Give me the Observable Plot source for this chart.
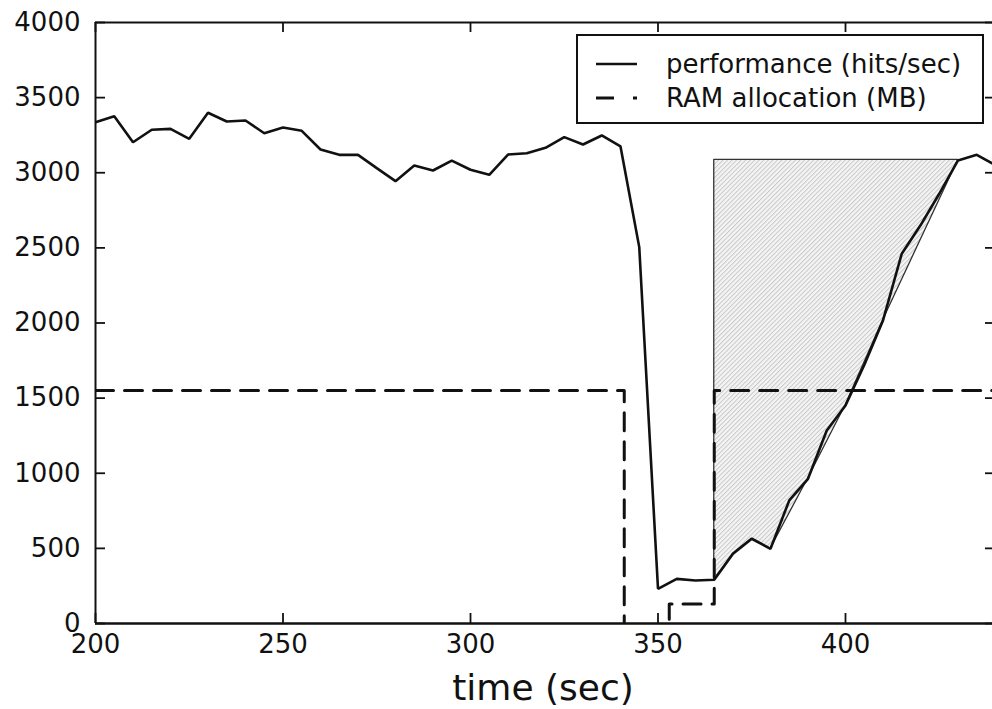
<!DOCTYPE html>
<html>
<head>
<meta charset="utf-8">
<script src="https://cdn.jsdelivr.net/npm/d3@7"></script>
<script src="https://cdn.jsdelivr.net/npm/@observablehq/plot@0.6"></script>
<style>
  html, body { margin: 0; padding: 0; background: #fff; overflow: hidden; }
  #chart { position: relative; width: 992px; height: 709px; overflow: hidden; }
  #chart svg { max-width: none !important; }
</style>
</head>
<body>
<div id="chart"></div>
<script>
// ---- data ----
const times = [200,205,210,215,220,225,230,235,240,245,250,255,260,265,270,275,280,285,290,295,300,305,310,315,320,325,330,335,340,345,350,355,360,365,370,375,380,385,390,395,400,405,410,415,420,425,430,435,440];
const hits  = [3336,3376,3203,3286,3292,3226,3399,3341,3348,3263,3301,3279,3155,3119,3119,3031,2944,3048,3015,3081,3020,2986,3121,3130,3166,3237,3188,3248,3175,2505,231,297,286,291,464,564,497,819,963,1285,1451,1720,2017,2461,2650,2860,3082,3119,3050];

const ramTimes = [200,341,341,353,353,365,365,440];
const ramMB    = [1550,1550,-100,-100,130,130,1550,1550];

const fillTimes = [365,370,375,380,390,400,410,430];
const fillLow   = [291,464,564,497,963,1451,2017,3082];
const fillTop   = 3086;

const xTicks = [200,250,300,350,400];
const yTicks = [0,500,1000,1500,2000,2500,3000,3500,4000];
const legendLabels = ["performance (hits/sec)", "RAM allocation (MB)"];
const xLabel = "time (sec)";

// ---- tables ----
const perf = times.map((t, i) => ({t, v: hits[i]}));
const ram  = ramTimes.map((t, i) => ({t, v: ramMB[i]}));
const band = fillTimes.map((t, i) => ({t, lo: fillLow[i], hi: fillTop}));

const ink = "#111";
const font = "DejaVu Sans";
const plain = d => String(d);

const W = 1000, H = 709, mL = 95, mR = 5, mT = 22, mB = 86;
const xDom = [200, 440], yDom = [0, 4000];
const tk = 10; // inward tick length in px
const ux = (xDom[1] - xDom[0]) / (W - mL - mR); // data units per px
const uy = (yDom[1] - yDom[0]) / (H - mT - mB);
const tickStyle = {stroke: ink, strokeWidth: 1.8};

const plot = Plot.plot({
  width: W,
  height: H,
  marginLeft: mL,
  marginRight: mR,
  marginTop: mT,
  marginBottom: mB,
  style: {fontFamily: font, fontSize: "26px", color: ink, background: "white", maxWidth: "none"},
  x: {domain: xDom},
  y: {domain: yDom},
  marks: [
    Plot.areaY(band, {x: "t", y1: "lo", y2: "hi", fill: "url(#hatch)", stroke: "#333", strokeWidth: 1.3}),
    Plot.line(ram, {x: "t", y: "v", stroke: ink, strokeWidth: 3, strokeDasharray: "18,11", clip: true}),
    Plot.line(perf, {x: "t", y: "v", stroke: ink, strokeWidth: 2.6, strokeLinejoin: "miter", clip: true}),
    // inward ticks on all four sides
    Plot.ruleY(yTicks, {y: d => d, x1: xDom[0], x2: xDom[0] + tk * ux, ...tickStyle}),
    Plot.ruleY(yTicks, {y: d => d, x1: xDom[1] - tk * ux, x2: xDom[1], ...tickStyle}),
    Plot.ruleX(xTicks, {x: d => d, y1: yDom[0], y2: yDom[0] + tk * uy, ...tickStyle}),
    Plot.ruleX(xTicks, {x: d => d, y1: yDom[1] - tk * uy, y2: yDom[1], ...tickStyle}),
    // spines
    Plot.ruleY([yDom[0]], {stroke: ink, strokeWidth: 2.6}),
    Plot.ruleY([yDom[1]], {stroke: ink, strokeWidth: 2}),
    Plot.ruleX(xDom, {stroke: ink, strokeWidth: 2}),
    // labels
    Plot.axisY(yTicks, {anchor: "left", tickSize: 0, tickPadding: 15, fontSize: 26, tickFormat: plain, label: null}),
    Plot.axisX(xTicks, {anchor: "bottom", tickSize: 0, tickPadding: 11, fontSize: 26, tickFormat: plain, label: null})
  ]
});
plot.style.maxWidth = "none";

const svg = d3.select(plot);
const defs = svg.insert("defs", ":first-child");
const pat = defs.append("pattern")
  .attr("id", "hatch")
  .attr("patternUnits", "userSpaceOnUse")
  .attr("width", 3.2).attr("height", 3.2)
  .attr("patternTransform", "rotate(45)");
pat.append("rect").attr("width", 3.2).attr("height", 3.2).attr("fill", "#f4f4f4");
pat.append("line").attr("x1", 0.5).attr("y1", 0).attr("x2", 0.5).attr("y2", 3.2)
  .attr("stroke", "#c4c4c4").attr("stroke-width", 0.9);

const xs = plot.scale("x");
// x-axis title
svg.append("text")
  .attr("x", xs.apply(320) - 2)
  .attr("y", 700)
  .attr("text-anchor", "middle")
  .attr("font-family", font)
  .attr("font-size", 36)
  .attr("fill", ink)
  .text(xLabel);

// legend
const lg = svg.append("g").attr("font-family", font).attr("font-size", 26).attr("fill", ink)
  .attr("text-anchor", "start");
lg.append("rect").attr("x", 577).attr("y", 35).attr("width", 406).attr("height", 88)
  .attr("fill", "white").attr("stroke", ink).attr("stroke-width", 2);
lg.append("line").attr("x1", 596).attr("x2", 637).attr("y1", 64).attr("y2", 64)
  .attr("stroke", ink).attr("stroke-width", 2.6);
lg.append("line").attr("x1", 596).attr("x2", 614).attr("y1", 98).attr("y2", 98)
  .attr("stroke", ink).attr("stroke-width", 3);
lg.append("line").attr("x1", 633).attr("x2", 637).attr("y1", 98).attr("y2", 98)
  .attr("stroke", ink).attr("stroke-width", 3);
legendLabels.forEach((s, i) => {
  lg.append("text").attr("x", 666).attr("y", 64 + i * 34).attr("dy", "0.35em")
    .attr("text-anchor", "start").text(s);
});

document.getElementById("chart").appendChild(plot);
</script>
</body>
</html>
